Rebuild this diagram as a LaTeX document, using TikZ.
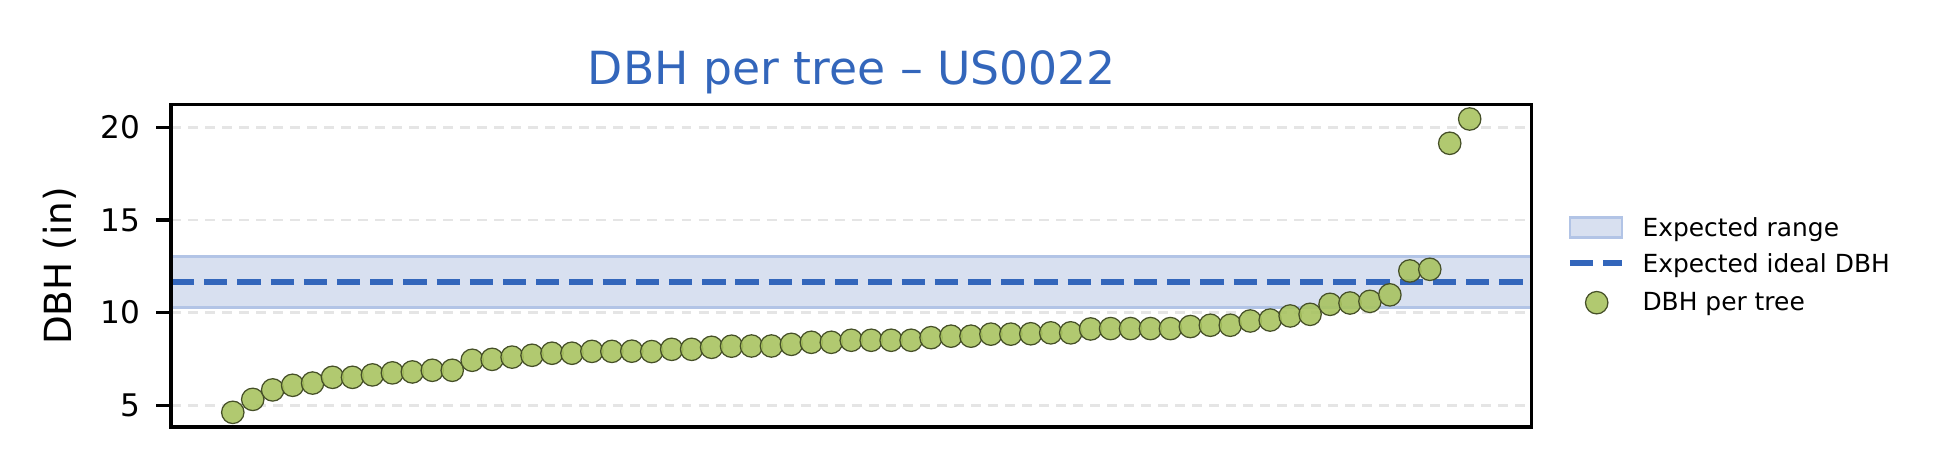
\documentclass[tikz,border=0pt]{standalone}
\usepackage{fontspec}
\setmainfont{DejaVu Sans}
\definecolor{dbhblue}{RGB}{51,102,187}
\definecolor{bandfill}{RGB}{216,224,240}
\definecolor{bandedge}{RGB}{178,196,230}
\definecolor{gridgray}{RGB}{229,229,229}
\definecolor{treegreen}{RGB}{168,195,96}
\definecolor{treeedge}{RGB}{70,80,40}
\tikzset{
  frame/.style={line width=0.8pt},
  gridline/.style={gridgray, line width=0.6pt, dash pattern=on 2.4pt off 1.7pt},
  band/.style={fill=bandfill, draw=bandedge, line width=0.7pt},
  ideal/.style={dbhblue, line width=1.5pt, dash pattern=on 5.6pt off 2.4pt},
  tree/.style={circle, minimum size=5.4pt, inner sep=0pt, fill=treegreen, fill opacity=0.9, draw=treeedge, line width=0.3pt},
  ticklabel/.style={left=3.5pt, inner sep=0pt, font=\fontsize{7.5}{9}\selectfont},
  legtext/.style={anchor=base west, inner sep=0pt, font=\fontsize{6}{7.2}\selectfont},
}
\begin{document}
\begin{tikzpicture}[x=0.2409pt, y=-0.2409pt]
	\useasboundingbox (0,0) rectangle (1947,472);

	% Titolo
	\node[anchor=base, dbhblue, inner sep=0pt, font=\fontsize{11}{13.2}\selectfont] (title) at (852,84.3) {DBH per tree – US0022};

	% Dati
	\begin{scope}[shift={(56.08pt,-119.96pt)}, x=4.806pt, y=4.464pt]
		% Griglia
		\foreach \y in {5,10,15,20}
		\draw[gridline] (-3.1,\y) -- (65.1,\y);

		% Intervallo atteso
		\draw[band] (-3.1,10.3) rectangle (65.1,13.05);
		\draw[ideal] (-3.1,11.65) -- (65.1,11.65);

		% Alberi
		\foreach \v [count=\k from 0] in {4.62,5.32,5.83,6.08,6.20,6.51,6.51,6.64,6.75,6.80,
			6.89,6.89,7.43,7.48,7.60,7.70,7.81,7.81,7.91,7.91,
			7.92,7.90,8.02,8.02,8.13,8.19,8.20,8.20,8.29,8.40,
			8.40,8.51,8.51,8.51,8.51,8.65,8.73,8.73,8.84,8.84,
			8.86,8.91,8.91,9.12,9.14,9.14,9.14,9.14,9.25,9.32,
			9.32,9.55,9.60,9.82,9.91,10.45,10.52,10.61,10.96,12.25,
			12.34,19.14,20.45}
		\node[tree] (p\k) at (\k,\v) {};

		% Asse y
		\draw[frame] (-3.1,3.83) rectangle (65.1,21.24);
		\foreach \y in {5,10,15,20}
		\draw[frame] (-3.1,\y) -- ++(-3.5pt,0) node[ticklabel] (t\y) {\y};
	\end{scope}
	\node[rotate=90, anchor=base, inner sep=0pt, font=\fontsize{9}{10.8}\selectfont] (ylab) at (71.7,266) {DBH (in)};

	% Legenda
	\draw[band] (1570,217.7) rectangle (1622,237.3);
	\node[legtext] (lrange) at (1641.7,236.7) {Expected range};
	\draw[ideal] (1570,263.3) -- (1622,263.3);
	\node[legtext] (lideal) at (1641.7,272.7) {Expected ideal DBH};
	\node[tree] (ltree) at (1596.7,302.7) {};
	\node[legtext] (lpoint) at (1641.7,311) {DBH per tree};
\end{tikzpicture}
\end{document}
